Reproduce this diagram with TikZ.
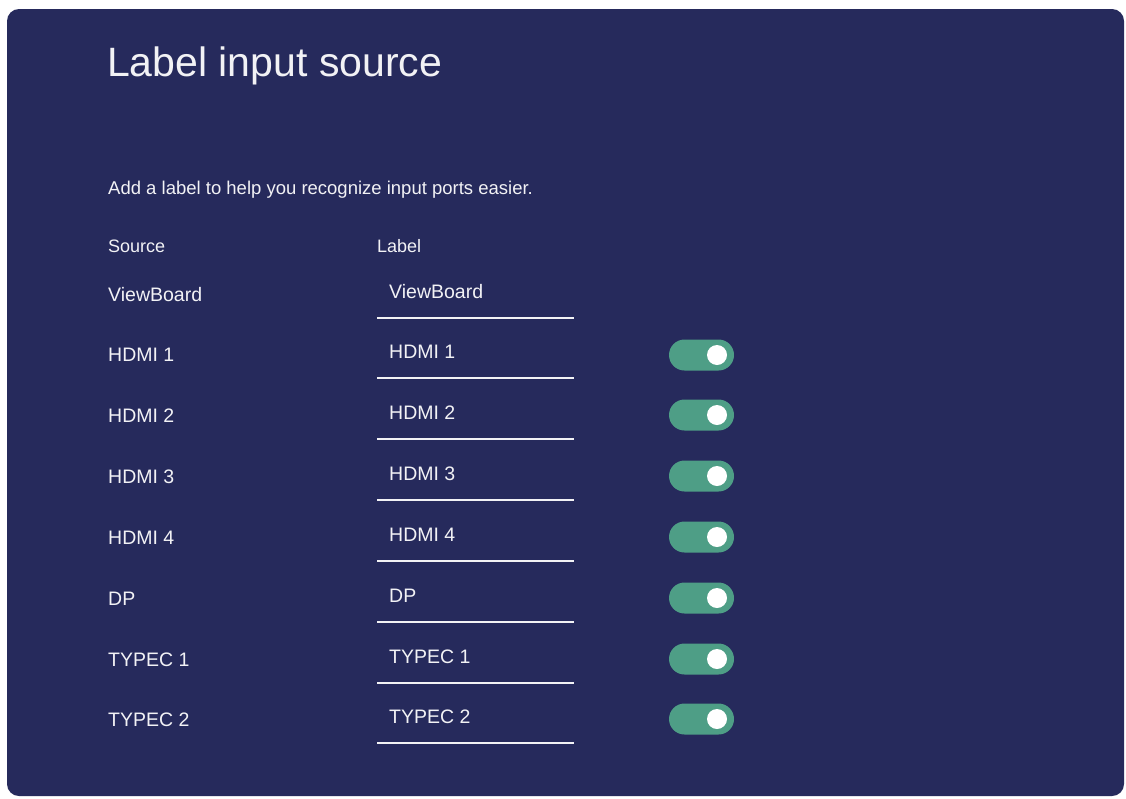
\documentclass[tikz,border=0pt]{standalone}
\usepackage{fontspec}
\setmainfont{Liberation Sans}
\definecolor{bg}{HTML}{262A5C}
\definecolor{tog}{HTML}{4E9E86}
\definecolor{txt}{HTML}{F2F2F5}
\begin{document}
\begin{tikzpicture}[x=1pt,y=-1pt,
  lbl/.style={anchor=west,text=txt,font=\fontsize{19.5}{22}\selectfont,inner sep=0pt},
  uline/.style={draw=txt,line width=1.3pt},
  togbody/.style={fill=tog,rounded corners=15.5pt},
  knob/.style={circle,fill=white,minimum size=20pt,inner sep=0pt}]
\useasboundingbox (0,0) rectangle (1126,798);
\fill[white] (0,0) rectangle (1126,798);
\fill[bg,rounded corners=12pt] (7,9) rectangle (1124,796);
\node[lbl,font=\fontsize{41}{46}\selectfont] (title) at (107,66) {Label input source};
\node[lbl,font=\fontsize{18.5}{21}\selectfont] (sub) at (108,190) {Add a label to help you recognize input ports easier.};
\node[lbl,font=\fontsize{18}{21}\selectfont] (hs) at (108,246) {Source};
\node[lbl,font=\fontsize{18}{21}\selectfont] (hl) at (377,246) {Label};
\foreach \i/\t/\yy in {0/ViewBoard/295,1/HDMI 1/355,2/HDMI 2/416,3/HDMI 3/477,4/HDMI 4/538,5/DP/599,6/TYPEC 1/660,7/TYPEC 2/720}{
  \node[lbl] (s\i) at (108,\yy) {\t};
  \node[lbl] (l\i) at (389,\yy-3) {\t};
  \coordinate (ua\i) at (377,\yy+23);
  \coordinate (ub\i) at (574,\yy+23);
  \draw[uline] (ua\i) -- (ub\i);
}
\foreach \i/\yy in {1/355,2/415,3/476,4/537,5/598,6/659,7/719}{
  \fill[togbody] (669,\yy-15.5) rectangle (734,\yy+15.5);
  \node[knob] (k\i) at (717,\yy) {};
}
\end{tikzpicture}
\end{document}
